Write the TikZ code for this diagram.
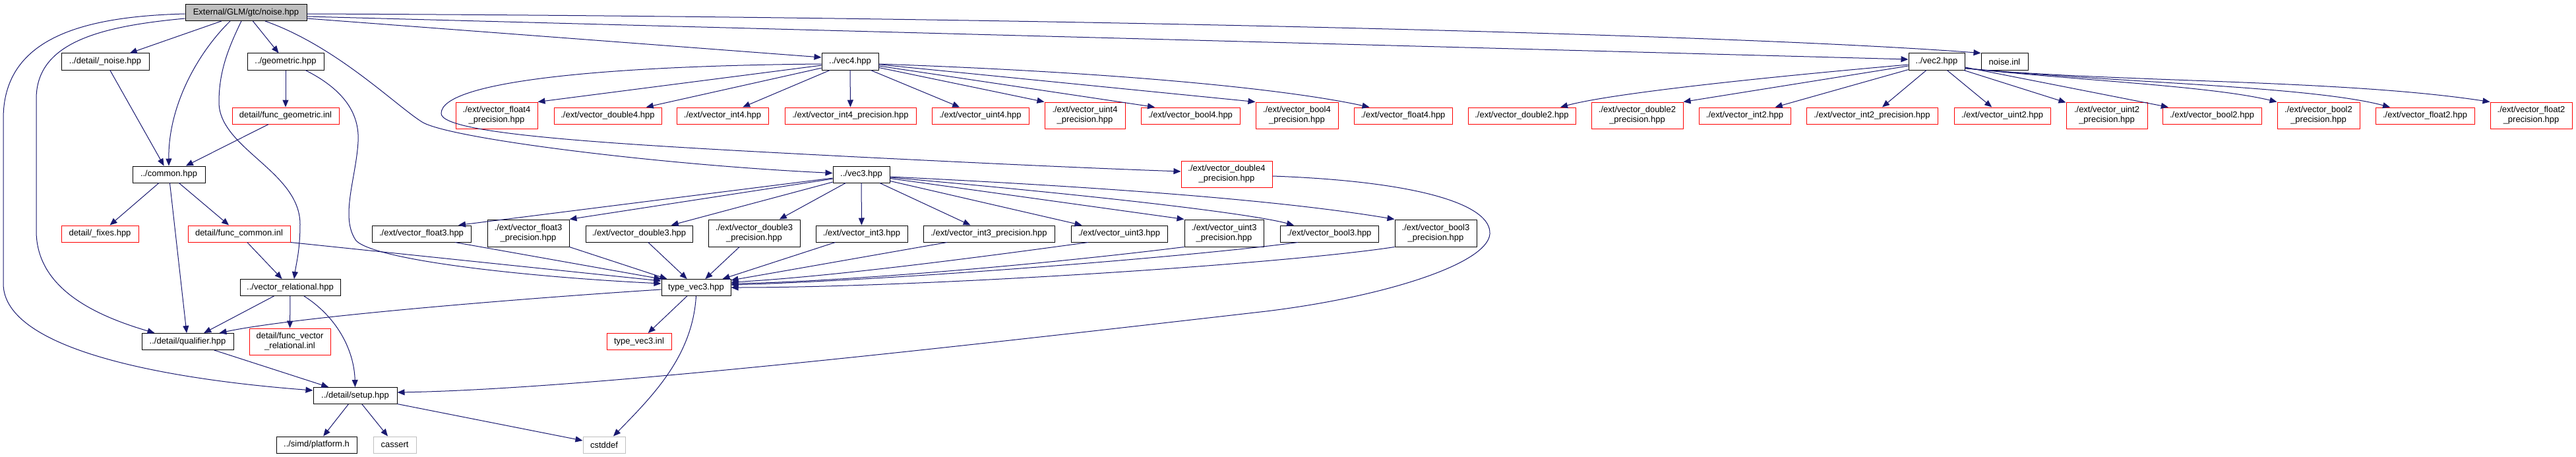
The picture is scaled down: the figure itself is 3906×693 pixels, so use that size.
\documentclass[tikz,border=0pt]{standalone}
\usepackage{fontspec}
\setmainfont{Liberation Sans}
\usetikzlibrary{arrows.meta}
\definecolor{edgeblue}{HTML}{191970}
\definecolor{boxgray}{HTML}{BFBFBF}
\definecolor{boxred}{HTML}{FF0000}
\begin{document}
\begin{tikzpicture}[x=1pt,y=-1pt,
  nbox/.style={rectangle, draw, line width=1.0pt, inner sep=0pt, align=center,
    font=\fontsize{13}{15}\selectfont, minimum height=25pt},
  blk/.style={nbox, draw=black},
  rbox/.style={nbox, draw=boxred},
  gbox/.style={nbox, draw=boxgray},
  titlebox/.style={nbox, draw=black, fill=boxgray},
  two/.style={minimum height=40pt},
  dep/.style={draw=edgeblue, line width=1.0pt, -{Triangle[length=11pt,width=9pt]}},
]
\fill[white] (0,0) rectangle (3906,693);
\useasboundingbox (0,0) rectangle (3906,693);

% ---------------- nodes ----------------
\node[titlebox, minimum width=184pt] (T) at (373,19) {External/GLM/gtc/noise.hpp};
\node[blk, minimum width=133pt] (noiseD) at (159.5,93.5) {../detail/\_noise.hpp};
\node[blk, minimum width=116pt] (geom) at (433,93.5) {../geometric.hpp};
\node[rbox, minimum width=162pt] (fgeom) at (433,175.5) {detail/func\_geometric.inl};
\node[blk, minimum width=110pt] (common) at (256,264.5) {../common.hpp};
\node[rbox, minimum width=117pt] (fixes) at (151.5,354.5) {detail/\_fixes.hpp};
\node[rbox, minimum width=155pt] (fcommon) at (362.5,354.5) {detail/func\_common.inl};
\node[blk, minimum width=152pt] (vrel) at (440,436) {../vector\_relational.hpp};
\node[blk, minimum width=139pt] (qual) at (284.5,518) {../detail/qualifier.hpp};
\node[rbox, two, minimum width=123pt] (fvrel) at (439.5,518) {detail/func\_vector\\\_relational.inl};
\node[blk, minimum width=127pt] (setup) at (538.5,600) {../detail/setup.hpp};
\node[blk, minimum width=122pt] (platform) at (480,674.5) {../simd/platform.h};
\node[gbox, minimum width=65pt] (cassert) at (598.5,674.5) {cassert};
\node[gbox, minimum width=64pt] (cstddef) at (916,674.5) {cstddef};
\node[blk, minimum width=105pt] (tv3) at (1055.5,436) {type\_vec3.hpp};
\node[rbox, minimum width=98pt] (tv3inl) at (969,518) {type\_vec3.inl};

\node[blk, minimum width=150pt] (f3) at (639,354.5) {./ext/vector\_float3.hpp};
\node[blk, minimum width=124pt, minimum height=41pt] (f3p) at (801,353.5) {./ext/vector\_float3\\\_precision.hpp};
\node[blk, minimum width=162pt] (d3) at (969,354.5) {./ext/vector\_double3.hpp};
\node[blk, minimum width=139pt, minimum height=41pt] (d3p) at (1143.5,353.5) {./ext/vector\_double3\\\_precision.hpp};
\node[blk, minimum width=139pt] (i3) at (1306.5,354.5) {./ext/vector\_int3.hpp};
\node[blk, minimum width=199pt] (i3p) at (1499.5,354.5) {./ext/vector\_int3\_precision.hpp};
\node[blk, minimum width=146pt] (u3) at (1697,354.5) {./ext/vector\_uint3.hpp};
\node[blk, minimum width=120pt, minimum height=41pt] (u3p) at (1856,353.5) {./ext/vector\_uint3\\\_precision.hpp};
\node[blk, minimum width=149pt] (b3) at (2015.5,354.5) {./ext/vector\_bool3.hpp};
\node[blk, minimum width=124pt, minimum height=41pt] (b3p) at (2177,353.5) {./ext/vector\_bool3\\\_precision.hpp};

\node[blk, minimum width=86pt] (vec4) at (1289,93.5) {../vec4.hpp};
\node[blk, minimum width=86pt] (vec3) at (1306,264.5) {../vec3.hpp};
\node[rbox, two, minimum width=124pt] (f4p) at (753,175) {./ext/vector\_float4\\\_precision.hpp};
\node[rbox, minimum width=163pt] (d4) at (921.5,175.5) {./ext/vector\_double4.hpp};
\node[rbox, minimum width=139pt] (i4) at (1095.5,175.5) {./ext/vector\_int4.hpp};
\node[rbox, minimum width=199pt] (i4p) at (1289.5,175.5) {./ext/vector\_int4\_precision.hpp};
\node[rbox, minimum width=147pt] (u4) at (1486.5,175.5) {./ext/vector\_uint4.hpp};
\node[rbox, two, minimum width=122pt] (u4p) at (1645,175) {./ext/vector\_uint4\\\_precision.hpp};
\node[rbox, minimum width=150pt] (b4) at (1805,175.5) {./ext/vector\_bool4.hpp};
\node[rbox, two, minimum width=125pt] (b4p) at (1966.5,175) {./ext/vector\_bool4\\\_precision.hpp};
\node[rbox, two, minimum width=138pt] (d4p) at (1860,264) {./ext/vector\_double4\\\_precision.hpp};
\node[rbox, minimum width=149pt] (f4) at (2127.5,175.5) {./ext/vector\_float4.hpp};

\node[blk, minimum width=85pt] (vec2) at (2936.5,93.5) {../vec2.hpp};
\node[blk, minimum width=71pt] (ninl) at (3039.5,93.5) {noise.inl};
\node[rbox, minimum width=163pt] (d2) at (2307.5,175.5) {./ext/vector\_double2.hpp};
\node[rbox, two, minimum width=139pt] (d2p) at (2482.5,175) {./ext/vector\_double2\\\_precision.hpp};
\node[rbox, minimum width=139pt] (i2) at (2645.5,175.5) {./ext/vector\_int2.hpp};
\node[rbox, minimum width=199pt] (i2p) at (2838.5,175.5) {./ext/vector\_int2\_precision.hpp};
\node[rbox, minimum width=146pt] (u2) at (3036,175.5) {./ext/vector\_uint2.hpp};
\node[rbox, two, minimum width=123pt] (u2p) at (3194.5,175) {./ext/vector\_uint2\\\_precision.hpp};
\node[rbox, minimum width=150pt] (b2) at (3354,175.5) {./ext/vector\_bool2.hpp};
\node[rbox, two, minimum width=125pt] (b2p) at (3515.5,175) {./ext/vector\_bool2\\\_precision.hpp};
\node[rbox, minimum width=150pt] (f2) at (3677,175.5) {./ext/vector\_float2.hpp};
\node[rbox, two, minimum width=124pt] (f2p) at (3838,175) {./ext/vector\_float2\\\_precision.hpp};

% ---------------- edges ----------------
% from noise.hpp
\draw[dep] (T) -- (noiseD);
\draw[dep] ([xshift=-24pt]T.south) .. controls (300,80) and (255,160) .. (common.north);
\draw[dep] ([xshift=-7pt]T.south) .. controls (345,75) and (332,110) .. (332,155)
  .. controls (332,225) and (455,260) .. (455,340)
  .. controls (455,380) and (449,400) .. ([xshift=6pt]vrel.north);
\draw[dep] (T) -- (geom);
\draw[dep] ([xshift=29pt]T.south) .. controls (510,70) and (600,160) .. (640,185)
  .. controls (680,210) and (1000,250) .. ([yshift=2pt]vec3.west);
\draw[dep] ([yshift=-9pt]T.west) .. controls (150,40) and (55,65) .. (55,150) -- (55,350)
  .. controls (55,440) and (150,480) .. ([xshift=-50pt]qual.north);
\draw[dep] ([yshift=-2pt]T.west) .. controls (120,25) and (5,60) .. (5,180) -- (5,430)
  .. controls (5,530) and (250,575) .. ([yshift=8pt]setup.west);
\draw[dep] ([yshift=-2pt]T.east) .. controls (1500,25) and (2600,50) .. (ninl.north west);
\draw[dep] ([yshift=-6pt]T.east) -- ([yshift=3.5pt]vec2.west);
\draw[dep] ([yshift=-9pt]T.east) -- ([yshift=6.5pt]vec4.west);

% left cluster
\draw[dep] (noiseD) -- (common);
\draw[dep] (geom) -- (fgeom);
\draw[dep] ([xshift=30pt]geom.south) .. controls (530,140) and (545,180) .. (543,215)
  .. controls (540,270) and (515,330) .. (540,365)
  .. controls (570,395) and (800,420) .. ([yshift=6pt]tv3.west);
\draw[dep] (fgeom) -- (common);
\draw[dep] (common) -- (fixes);
\draw[dep] (common) -- (fcommon);
\draw[dep] (common) -- (qual);
\draw[dep] (fcommon) -- (vrel);
\draw[dep] (fcommon.south east) -- ([yshift=10pt]tv3.west);
\draw[dep] (vrel) -- (qual);
\draw[dep] (vrel) -- (fvrel);
\draw[dep] ([xshift=21pt]vrel.south) .. controls (510,480) and (537,530) .. (setup.north);
\draw[dep] (qual) -- (setup);
\draw[dep] (setup) -- (platform);
\draw[dep] (setup) -- (cassert);
\draw[dep] (setup) -- (cstddef);
\draw[dep] ([yshift=-3pt]tv3.west) .. controls (800,452) and (450,480) .. ([xshift=48pt]qual.north);
\draw[dep] (tv3) -- (tv3inl);
\draw[dep] (tv3.south) .. controls (1050,540) and (990,600) .. ([xshift=14pt]cstddef.north);

% vec4
\draw[dep] ([yshift=-3.5pt]vec4.west) .. controls (900,100) and (669,125) .. (669,172)
  .. controls (669,205) and (950,220) .. (1300,238)
  .. controls (1500,248) and (1650,255) .. ([yshift=4pt]d4p.west);
\draw[dep] (vec4) -- (f4p.north east);
\draw[dep] (vec4) -- (d4);
\draw[dep] (vec4) -- (i4);
\draw[dep] (vec4) -- (i4p);
\draw[dep] (vec4) -- (u4);
\draw[dep] (vec4) -- (u4p.north west);
\draw[dep] (vec4) -- ([xshift=-54pt]b4.north);
\draw[dep] (vec4) -- (b4p.north west);
\draw[dep] ([yshift=-3.5pt]vec4.east) .. controls (1700,110) and (1950,135) .. ([xshift=-51pt]f4.north);
\draw[dep] ([yshift=-3pt]d4p.east) .. controls (2150,275) and (2262,310) .. (2259,355)
  .. controls (2255,400) and (2100,450) .. (1920,472)
  .. controls (1500,520) and (900,590) .. ([yshift=5pt]setup.east);

% vec3
\draw[dep] (vec3) -- ([xshift=56pt]f3.north);
\draw[dep] (vec3) -- (f3p.north east);
\draw[dep] (vec3) -- (d3);
\draw[dep] (vec3) -- (d3p);
\draw[dep] (vec3) -- (i3);
\draw[dep] (vec3) -- (i3p);
\draw[dep] (vec3) -- (u3);
\draw[dep] (vec3) -- (u3p.north west);
\draw[dep] ([yshift=-4.5pt]vec3.east) .. controls (1700,300) and (1900,325) .. ([xshift=-53.5pt]b3.north);
\draw[dep] ([yshift=-3.5pt]vec3.east) .. controls (1700,285) and (1950,305) .. (b3p.north west);

% ext3 -> type_vec3
\draw[dep] ([xshift=51pt]f3.south) -- (tv3.north west);
\draw[dep] (f3p.south east) -- ([xshift=-44pt]tv3.north);
\draw[dep] (d3) -- (tv3);
\draw[dep] (d3p) -- (tv3);
\draw[dep] (i3) -- (tv3);
\draw[dep] ([xshift=-63.5pt]i3p.south) -- ([yshift=11pt]tv3.east);
\draw[dep] ([xshift=-47pt]u3.south) .. controls (1450,395) and (1250,420) .. ([yshift=8pt]tv3.east);
\draw[dep] (u3p.south west) .. controls (1550,405) and (1250,428) .. ([yshift=6pt]tv3.east);
\draw[dep] ([xshift=-47.5pt]b3.south) .. controls (1800,390) and (1350,425) .. ([yshift=4pt]tv3.east);
\draw[dep] (b3p.south west) .. controls (1950,400) and (1400,436) .. (tv3.east);

% vec2
\draw[dep] ([yshift=-4.5pt]vec2.west) .. controls (2700,115) and (2450,140) .. ([xshift=58.5pt]d2.north);
\draw[dep] ([yshift=-6.5pt]vec2.west) -- (d2p.north east);
\draw[dep] (vec2) -- (i2);
\draw[dep] (vec2) -- (i2p);
\draw[dep] (vec2) -- (u2);
\draw[dep] (vec2) -- (u2p);
\draw[dep] (vec2) -- (b2);
\draw[dep] ([yshift=-10pt]vec2.east) .. controls (3150,122) and (3350,130) .. (b2p.north west);
\draw[dep] ([yshift=-10pt]vec2.east) .. controls (3200,125) and (3500,130) .. ([xshift=-53pt]f2.north);
\draw[dep] ([yshift=-10pt]vec2.east) .. controls (3200,125) and (3550,120) .. (f2p.north west);
\end{tikzpicture}
\end{document}
